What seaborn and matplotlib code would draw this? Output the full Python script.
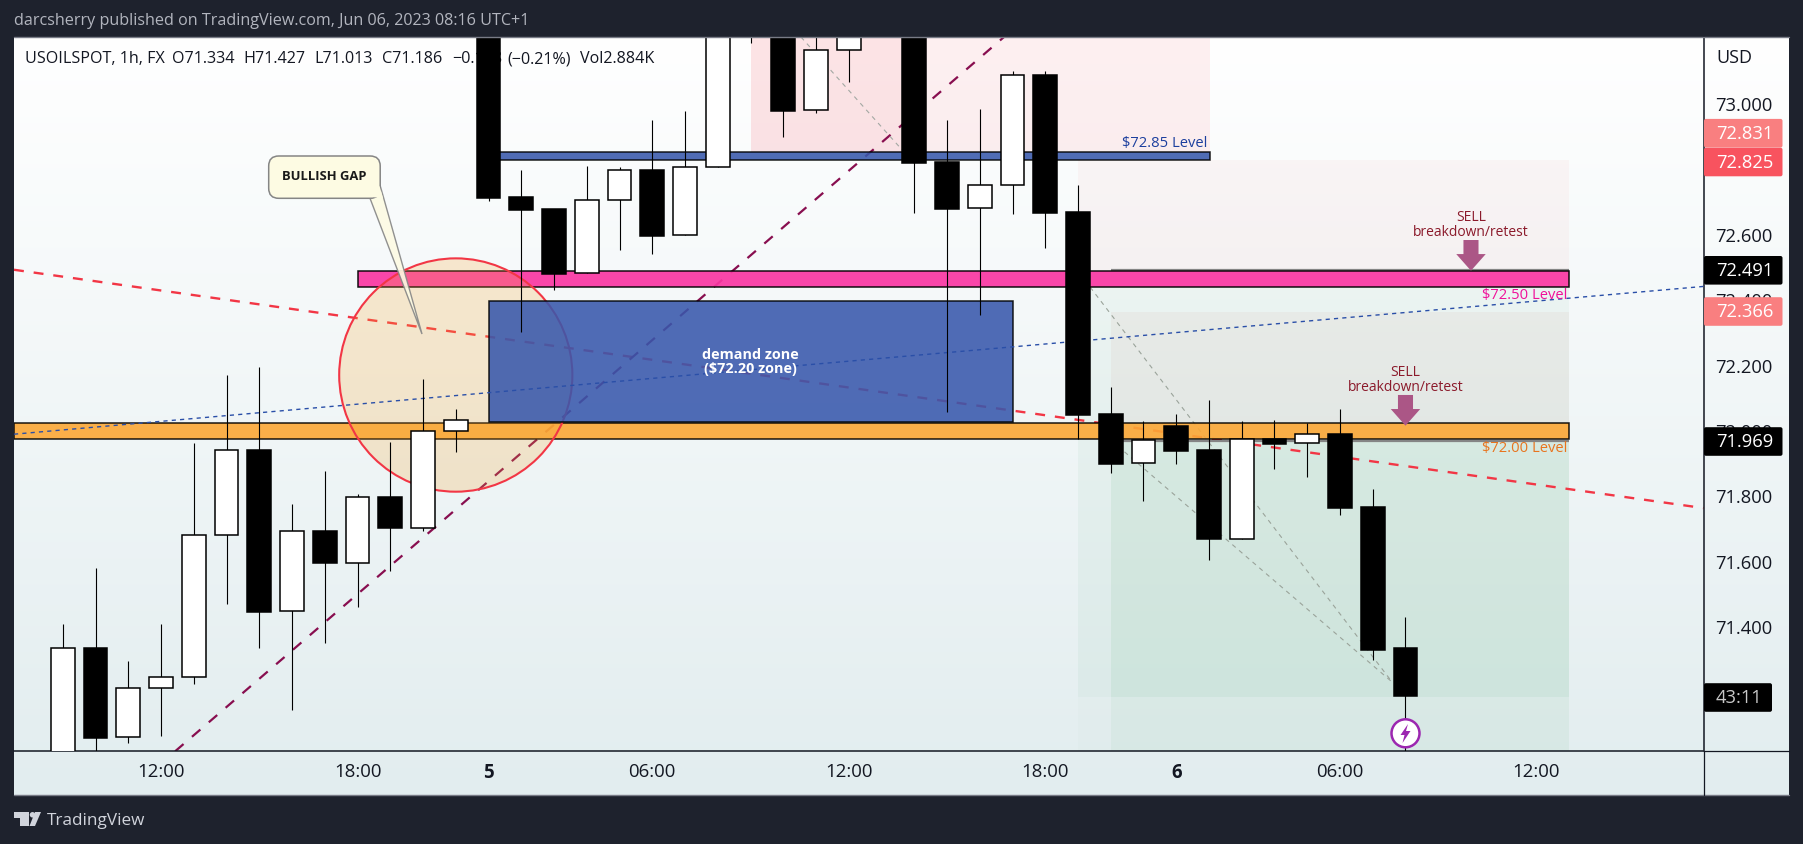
import numpy as np
import pandas as pd
import matplotlib
matplotlib.use("Agg")
import matplotlib.pyplot as plt
from matplotlib.patches import Rectangle, Ellipse, Polygon, FancyBboxPatch
import seaborn as sns

# ---------- data ----------
hours = [-3, -2, -1, 0, 1, 2, 3, 4, 5, 6, 7, 8, 9, 10, 11, 12, 13, 14, 15, 16, 17, 18, 19, 20, 21,
         23, 24, 25, 26, 27, 28, 29, 30, 31, 32, 33, 34, 35, 36, 37, 38]
opens = [70.902, 71.332, 71.060, 71.210, 71.244, 71.678, 71.938, 71.446, 71.690, 71.594, 71.794, 71.701, 71.996,
         73.350, 72.713, 72.676, 72.479, 72.702, 72.795, 72.595, 72.803, 73.300, 73.400, 72.978, 73.161,
         73.500, 72.820, 72.678, 72.748, 73.086, 72.667, 72.049, 71.898, 72.012, 71.939, 71.666, 71.972,
         71.959, 71.988, 71.765, 71.334]
highs = [71.407, 71.578, 71.294, 71.407, 71.960, 72.168, 72.193, 71.774, 71.875, 71.804, 71.963, 72.156, 72.064,
         73.400, 72.795, 72.676, 72.807, 72.803, 72.948, 72.976, 73.400, 73.500, 73.450, 73.230, 73.300,
         73.550, 72.948, 72.982, 73.098, 73.098, 72.749, 72.131, 72.028, 72.049, 72.092, 72.028, 72.031,
         72.021, 72.064, 71.820, 71.427]
lows = [70.872, 70.994, 71.041, 71.065, 71.224, 71.468, 71.334, 71.142, 71.347, 71.457, 71.567, 71.692, 71.934,
        72.699, 72.299, 72.429, 72.479, 72.551, 72.539, 72.595, 72.803, 73.184, 72.897, 72.970, 73.065,
        72.665, 72.056, 72.353, 72.661, 72.557, 71.972, 71.869, 71.784, 71.897, 71.603, 71.666, 71.882,
        71.857, 71.741, 71.295, 71.013]
closes = [71.332, 71.059, 71.210, 71.244, 71.678, 71.938, 71.444, 71.690, 71.594, 71.794, 71.701, 71.996, 72.030,
          72.710, 72.674, 72.478, 72.702, 72.794, 72.594, 72.803, 73.300, 73.450, 72.976, 73.161, 73.270,
          72.817, 72.677, 72.748, 73.085, 72.665, 72.046, 71.897, 71.969, 71.937, 71.665, 71.972, 71.958,
          71.987, 71.762, 71.328, 71.186]

price_ticks = [73.0, 72.6, 72.4, 72.2, 72.0, 71.8, 71.6, 71.4]
time_ticks = [0, 6, 10, 15, 21, 27, 31, 36, 42]
time_labels = ["12:00", "18:00", "5", "06:00", "12:00", "18:00", "6", "06:00", "12:00"]

red_line_h, red_line_p = [-4.49, 47.1], [72.490, 71.761]
blue_line_h, blue_line_p = [-4.49, 47.1], [71.987, 72.439]
maroon_line_h, maroon_line_p = [0.43, 25.74], [71.017, 73.202]
grey1_h, grey1_p = [19.54, 23.02], [73.202, 72.813]
grey2_h, grey2_p = [28.37, 37.59], [72.437, 71.229]
grey3_h, grey3_p = [29.42, 37.59], [71.933, 71.229]

legend_parts = ["USOILSPOT, 1h, FX", "O71.334", "H71.427", "L71.013", "C71.186", "−0.148", "(−0.21%)", "Vol2.884K"]
legend_x_px = [25, 172, 243, 314, 382, 452, 507, 580]

XMIN, XMAX, YMIN, YMAX = -4.49, 47.1, 71.017, 73.202
BG = "#1e222d"
FONT = ["Open Sans", "DejaVu Sans"]

# ---------- figure ----------
sns.set_theme(style="white")
plt.rcParams["font.family"] = FONT
W, H = 1803, 845
fig = plt.figure(figsize=(W / 100, H / 100), dpi=100, facecolor=BG)


def frame(l, t, r, b):
    return [l / W, 1 - b / H, (r - l) / W, (b - t) / H]


# gradient panel
bg = fig.add_axes(frame(14, 38, 1789, 796), zorder=0)
grad = np.linspace(0, 1, 256)[:, None, None]
top, bot = np.array([255, 255, 255]) / 255, np.array([226, 237, 239]) / 255
bg.imshow(top + (bot - top) * grad, aspect="auto", extent=[0, 1, 0, 1])
bg.axis("off")

ax = fig.add_axes(frame(14, 38, 1703.5, 752.3), zorder=1)
ax.patch.set_visible(False)


def rect(h0, h1, p0, p1, color, alpha=1.0, z=1, ec="none", lw=0):
    ax.add_patch(Rectangle((h0, p0), h1 - h0, p1 - p0, facecolor=color, alpha=alpha,
                           edgecolor=ec, linewidth=lw, zorder=z))


# position tools
rect(18, 32.03, 72.85, YMAX, "#fb5a6a", 0.09, 1)
rect(18, 22.6, 72.85, YMAX, "#f7606f", 0.08, 1)
rect(28, 43, 72.485, 72.826, "#f23645", 0.04, 1)
rect(29, 43, 71.968, 72.360, "#c2503c", 0.05, 1)
rect(28, 43, YMIN, 72.436, "#4caf70", 0.02, 1)
rect(28, 43, 71.182, 72.436, "#4caf70", 0.035, 1)
rect(29, 43, YMIN, 71.968, "#4caf70", 0.06, 1)
rect(29, 43, 71.182, 71.968, "#4caf70", 0.035, 1)

# trend lines
for hs, ps, col, lw, dash, z in [
    (red_line_h, red_line_p, "#f23645", 1.7, (4.2, 4.2), 2),
    (blue_line_h, blue_line_p, "#2a4fa8", 1.0, (3, 3), 5.5),
    (maroon_line_h, maroon_line_p, "#880e4f", 1.6, (5, 5), 2),
    (grey1_h, grey1_p, "#a3a8a3", 0.8, (4, 4), 2),
    (grey2_h, grey2_p, "#9aa39a", 0.8, (4, 4), 2),
    (grey3_h, grey3_p, "#9aa39a", 0.8, (4, 4), 2),
]:
    sns.lineplot(x=hs, y=ps, color=col, linewidth=lw, linestyle=(0, dash), zorder=z,
                 ax=ax, estimator=None, sort=False, legend=False)

# entry lines of the position tools
ax.hlines(72.489, 29, 43, color="#858585", lw=1.6, zorder=2)
ax.hlines(71.966, 29, 43, color="#858585", lw=1.6, zorder=2)

# zones and levels
rect(6, 43, 72.436, 72.485, "#fa37a2", 0.92, 3, "black", 1.1)
rect(XMIN, 43, 71.972, 72.022, "#fca836", 0.9, 3, "black", 1.1)
ax.add_patch(Ellipse((9, 72.168), 7.12, 233.4 / 327, facecolor=(0.97, 0.65, 0.19, 0.22),
                     edgecolor="#f23645", linewidth=1.5, zorder=4))
rect(10, 32.03, 72.825, 72.849, "#3858ac", 0.88, 5, "black", 1.1)
rect(10, 26, 72.023, 72.394, "#3858ac", 0.88, 5, "black", 1.1)

# legend line sits below the candles
for part, xp in zip(legend_parts, legend_x_px):
    ax.text(xp / W, 1 - 59.5 / H, part, transform=fig.transFigure, ha="left", va="center",
            fontsize=11.6, color="#131722", zorder=5.5)

# ---------- candles ----------
df = pd.DataFrame({"h": hours, "o": opens, "hi": highs, "lo": lows, "c": closes})
wicks = df.melt(id_vars="h", value_vars=["hi", "lo"], value_name="price")
sns.lineplot(data=wicks, x="h", y="price", units="h", estimator=None, color="black",
             linewidth=0.8, zorder=6, ax=ax, legend=False, solid_capstyle="butt")
up = df["c"] >= df["o"]
body_lo = df[["o", "c"]].min(axis=1)
body_hi = df[["o", "c"]].max(axis=1)
ax.bar(df["h"], body_hi - body_lo, bottom=body_lo, width=0.73,
       color=["white" if u else "black" for u in up], edgecolor="black", linewidth=1.1, zorder=7)

# ---------- axes ----------
ax.set_xlim(XMIN, XMAX)
ax.set_ylim(YMIN, YMAX)
ax.set_xlabel("")
ax.set_ylabel("")
ax.grid(False)
ax.yaxis.tick_right()
ax.set_yticks(price_ticks)
ax.set_yticklabels([f"{p:.3f}" for p in price_ticks])
ax.set_xticks(time_ticks)
ax.set_xticklabels(time_labels)
for t, lab in zip(ax.get_xticklabels(), time_labels):
    t.set_fontweight("bold" if len(lab) == 1 else "normal")
ax.tick_params(axis="x", length=0, pad=8, labelsize=13.4, labelcolor="#131722")
ax.tick_params(axis="y", length=0, pad=8.5, labelsize=13.2, labelcolor="#131722")
for name, sp in ax.spines.items():
    sp.set_visible(name in ("right", "bottom"))
    sp.set_color("#131722")
    sp.set_linewidth(1.1)

# text anchored on data
ax.text(32.03 - 0.07, 72.88, "$72.85 Level", ha="right", va="center", fontsize=10.6, color="#1c3f9e", zorder=8)
ax.text(42.95, 72.413, "$72.50 Level", ha="right", va="center", fontsize=10.6, color="#f0109a", zorder=8)
ax.text(42.95, 71.946, "$72.00 Level", ha="right", va="center", fontsize=10.6, color="#e8741e", zorder=8)
ax.text(18, 72.21, "demand zone\n($72.20 zone)", ha="center", va="center", fontsize=10.4, fontweight="bold",
        color="white", linespacing=1.0, zorder=8)
for hc, ptop, pmid, ptip, py in [(40, 72.581, 72.538, 72.487, 72.63), (38, 72.107, 72.064, 72.013, 72.156)]:
    ax.text(hc, py, "SELL\nbreakdown/retest", ha="center", va="center", fontsize=10, color="#8b1a2b",
            linespacing=1.0, zorder=8)
    ax.add_patch(Polygon([(hc - 0.23, ptop), (hc + 0.23, ptop), (hc + 0.23, pmid), (hc + 0.45, pmid), (hc, ptip),
                          (hc - 0.45, pmid), (hc - 0.23, pmid)], closed=True, facecolor="#ab5686", edgecolor="none",
                         zorder=8))

# ---------- chrome drawn in figure pixels ----------
ov = fig.add_axes([0, 0, 1, 1], zorder=3)
ov.set_xlim(0, W)
ov.set_ylim(H, 0)
ov.axis("off")

ov.text(14, 21, "darcsherry published on TradingView.com, Jun 06, 2023 08:16 UTC+1", ha="left", va="center",
        fontsize=11.6, color="#b2b5be")
ov.plot([14, 1789], [38, 38], color="#787b86", lw=1)
ov.plot([14, 1789], [796, 796], color="#787b86", lw=1)
ov.plot([1703.5, 1789], [752.3, 752.3], color="#131722", lw=0.9)
ov.plot([1703.5, 1703.5], [752.3, 796], color="#131722", lw=0.9)
ov.text(1716, 58, "USD", ha="left", va="center", fontsize=13, color="#131722")

# callout
ov.add_patch(Polygon([(369.7, 198.5), (380, 186), (422, 335)], closed=True, facecolor="#fdfbe3",
                     edgecolor="#858585", linewidth=1, zorder=5, alpha=0.9))
ov.add_patch(FancyBboxPatch((275.7, 164), 97.5, 28.3, boxstyle="round,pad=7,rounding_size=10", facecolor="#fdfbe3",
                            edgecolor="#858585", linewidth=1.1, zorder=6))
ov.add_patch(Polygon([(370.2, 198), (379.5, 187), (383, 199)], closed=True, facecolor="#fdfbe3", edgecolor="none",
                     zorder=6.5))
ov.text(324, 177, "BULLISH GAP", ha="center", va="center", fontsize=9.4, fontweight="bold", color="#1a1a1a", zorder=7)


# price tags
def tag(yc, label, color, txt="white", right=1782.5):
    ov.add_patch(FancyBboxPatch((1704, yc - 14.3), right - 1704, 28.6,
                                boxstyle="round,pad=0,rounding_size=2", facecolor=color, edgecolor="none", zorder=6))
    ov.text(1716, yc, label, ha="left", va="center", fontsize=13.2, color=txt, zorder=7)


tag(134.2, "72.831", "#f97f80")
tag(163, "72.825", "#f8535f")
tag(271.3, "72.491", "#000000")
tag(312.5, "72.366", "#f97f80")
tag(442.5, "71.969", "#000000")
tag(698.5, "43:11", "#000000", "#c8c8c8", right=1772)

# lightning marker
ov.add_patch(Ellipse((1405.5, 734.3), 28, 28, facecolor="white", edgecolor="#9c27b0", linewidth=1.8, zorder=6))
ov.add_patch(Polygon([(1408, 725), (1400.5, 736), (1404.5, 736), (1402.5, 744), (1410.5, 732), (1406, 732)],
                     closed=True, facecolor="#9c27b0", edgecolor="none", zorder=7))

# TradingView footer
ov.add_patch(Rectangle((14, 813), 15, 5.5, facecolor="#d1d4dc", edgecolor="none"))
ov.add_patch(Rectangle((20, 813), 9, 14, facecolor="#d1d4dc", edgecolor="none"))
ov.add_patch(Ellipse((32.5, 815.8), 5.5, 5.5, facecolor="#d1d4dc", edgecolor="none"))
ov.add_patch(Polygon([(35, 813), (41, 813), (35, 827), (29.5, 827)], closed=True, facecolor="#d1d4dc", edgecolor="none"))
ov.text(47, 821, "TradingView", ha="left", va="center", fontsize=12.3, color="#d1d4dc")

fig.savefig("out.png", dpi=100, facecolor=BG)
